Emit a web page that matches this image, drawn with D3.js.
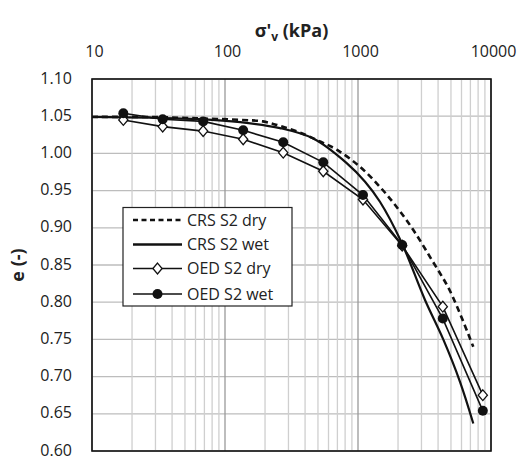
<!DOCTYPE html>
<html>
<head>
<meta charset="utf-8">
<script src="https://cdn.jsdelivr.net/npm/d3@7"></script>
<style>
  html, body { margin: 0; padding: 0; background: #fff; }
  svg { display: block; font-family: "Open Sans", "DejaVu Sans", sans-serif; }
</style>
</head>
<body>
<svg id="chart" width="518" height="459"></svg>
<script>
// Vertical effective stress (kPa) vs void ratio e
const xTickValues = [10, 100, 1000, 10000];
const yTickValues = [0.60, 0.65, 0.70, 0.75, 0.80, 0.85, 0.90, 0.95, 1.00, 1.05, 1.10];

// Oedometer load steps (kPa)
const oedStress = [17.2, 34, 68.5, 137, 274, 548, 1090, 2150, 4340, 8680];
const oedDryE   = [1.045, 1.036, 1.030, 1.019, 1.001, 0.976, 0.938, 0.876, 0.794, 0.675];
const oedWetE   = [1.054, 1.046, 1.043, 1.031, 1.015, 0.988, 0.944, 0.877, 0.778, 0.654];

// Constant rate of strain tests
const crsDryStress = [10, 27, 65, 130, 193, 259, 366, 518, 692, 1035, 1462, 1953, 2606, 3583, 4920, 7360];
const crsDryE      = [1.049, 1.049, 1.047, 1.045, 1.043, 1.037, 1.028, 1.016, 1.005, 0.982, 0.955, 0.928, 0.897, 0.857, 0.815, 0.740];
const crsWetStress = [10, 27, 65, 130, 259, 461, 822, 1130, 1462, 2104, 3190, 4376, 5848, 7360];
const crsWetE      = [1.049, 1.048, 1.046, 1.042, 1.034, 1.020, 0.987, 0.962, 0.935, 0.882, 0.803, 0.750, 0.693, 0.637];

const legendLabels = ["CRS S2 dry", "CRS S2 wet", "OED S2 dry", "OED S2 wet"];

const svg = d3.select("#chart");
const pLeft = 92, pRight = 491, pTop = 79, pBottom = 451;

const x = d3.scaleLog().domain([10, 10000]).range([pLeft, pRight]);
const y = d3.scaleLinear().domain([0.60, 1.10]).range([pBottom, pTop]);

// grid
const grid = svg.append("g");
grid.selectAll("line.hx").data(yTickValues).join("line")
  .attr("x1", pLeft).attr("x2", pRight)
  .attr("y1", d => y(d)).attr("y2", d => y(d))
  .attr("stroke", "#bdbdbd").attr("stroke-width", 1.3);
grid.selectAll("line.vx").data(x.ticks()).join("line")
  .attr("y1", pTop).attr("y2", pBottom)
  .attr("x1", d => x(d)).attr("x2", d => x(d))
  .attr("stroke", d => xTickValues.includes(d) ? "#9a9a9a" : "#cfcfcf")
  .attr("stroke-width", 1.3);

// axes (labels only)
const xAxis = svg.append("g").attr("transform", `translate(2,${pTop - 22})`)
  .call(d3.axisTop(x).tickValues(xTickValues).tickFormat(d3.format("d")).tickSize(0).tickPadding(0));
const yAxis = svg.append("g").attr("transform", `translate(${pLeft - 20},0)`)
  .call(d3.axisLeft(y).tickValues(yTickValues).tickFormat(d3.format(".2f")).tickSize(0).tickPadding(0));
[xAxis, yAxis].forEach(a => {
  a.select(".domain").remove();
  a.selectAll("text").attr("font-size", 16).attr("fill", "#222")
    .attr("font-family", "'Open Sans', sans-serif");
});
yAxis.selectAll("text").attr("dy", "0.25em");

// series
const pts = (xs, ys) => xs.map((v, i) => [v, ys[i]]);
const smooth = d3.line().x(d => x(d[0])).y(d => y(d[1])).curve(d3.curveCatmullRom.alpha(0.5));
const straight = d3.line().x(d => x(d[0])).y(d => y(d[1]));

const series = svg.append("g");
series.append("path").attr("d", smooth(pts(crsDryStress, crsDryE)))
  .attr("fill", "none").attr("stroke", "#111").attr("stroke-width", 2.6)
  .attr("stroke-dasharray", "6,4");
series.append("path").attr("d", smooth(pts(crsWetStress, crsWetE)))
  .attr("fill", "none").attr("stroke", "#111").attr("stroke-width", 2.2);
series.append("path").attr("d", straight(pts(oedStress, oedDryE)))
  .attr("fill", "none").attr("stroke", "#111").attr("stroke-width", 1.6);
series.append("path").attr("d", straight(pts(oedStress, oedWetE)))
  .attr("fill", "none").attr("stroke", "#111").attr("stroke-width", 1.6);

// open diamond marker, slightly taller than wide
const diamondType = {
  draw(ctx) {
    const hw = 4.6, hh = 5.4;
    ctx.moveTo(0, -hh); ctx.lineTo(hw, 0); ctx.lineTo(0, hh); ctx.lineTo(-hw, 0); ctx.closePath();
  }
};
const diamond = d3.symbol().type(diamondType);
series.selectAll("path.dry").data(pts(oedStress, oedDryE)).join("path")
  .attr("transform", d => `translate(${x(d[0])},${y(d[1])})`)
  .attr("d", diamond).attr("fill", "#fff").attr("stroke", "#111").attr("stroke-width", 1.3);
series.selectAll("circle.wet").data(pts(oedStress, oedWetE)).join("circle")
  .attr("cx", d => x(d[0])).attr("cy", d => y(d[1])).attr("r", 5)
  .attr("fill", "#111");

// plot frame
svg.append("rect").attr("x", pLeft).attr("y", pTop)
  .attr("width", pRight - pLeft).attr("height", pBottom - pTop)
  .attr("fill", "none").attr("stroke", "#111").attr("stroke-width", 1.6);

// titles
const title = svg.append("text").attr("x", (pLeft + pRight) / 2).attr("y", 37)
  .attr("text-anchor", "middle").attr("font-size", 18).attr("font-weight", "bold").attr("fill", "#222");
title.append("tspan").text("σ'");
title.append("tspan").attr("font-size", 12).attr("dy", 4).text("v");
title.append("tspan").attr("dy", -4).text(" (kPa)");

svg.append("text").attr("transform", `translate(24,${(pTop + pBottom) / 2}) rotate(-90)`)
  .attr("text-anchor", "middle").attr("font-size", 18).attr("font-weight", "bold").attr("fill", "#222")
  .text("e (-)");

// legend
const lg = svg.append("g");
lg.append("rect").attr("x", 123).attr("y", 207.5).attr("width", 169).attr("height", 98.5)
  .attr("fill", "#fff").attr("stroke", "#222").attr("stroke-width", 1.2);
const rowY = [220, 244.5, 268.5, 294];
const lx1 = 133, lx2 = 182, lmid = 157.5;
legendLabels.forEach((lab, i) => {
  const yy = rowY[i];
  const ln = lg.append("line").attr("x1", lx1).attr("x2", lx2).attr("y1", yy).attr("y2", yy)
    .attr("stroke", "#111").attr("stroke-width", i < 2 ? 2.4 : 1.6);
  if (i === 0) ln.attr("stroke-dasharray", "5,3.5");
  if (i === 2) lg.append("path").attr("transform", `translate(${lmid},${yy})`)
    .attr("d", diamond).attr("fill", "#fff").attr("stroke", "#111").attr("stroke-width", 1.3);
  if (i === 3) lg.append("circle").attr("cx", lmid).attr("cy", yy).attr("r", 5).attr("fill", "#111");
  lg.append("text").attr("x", 187).attr("y", yy).attr("dy", "0.36em")
    .attr("font-size", 16).attr("fill", "#222").text(lab);
});
</script>
</body>
</html>
